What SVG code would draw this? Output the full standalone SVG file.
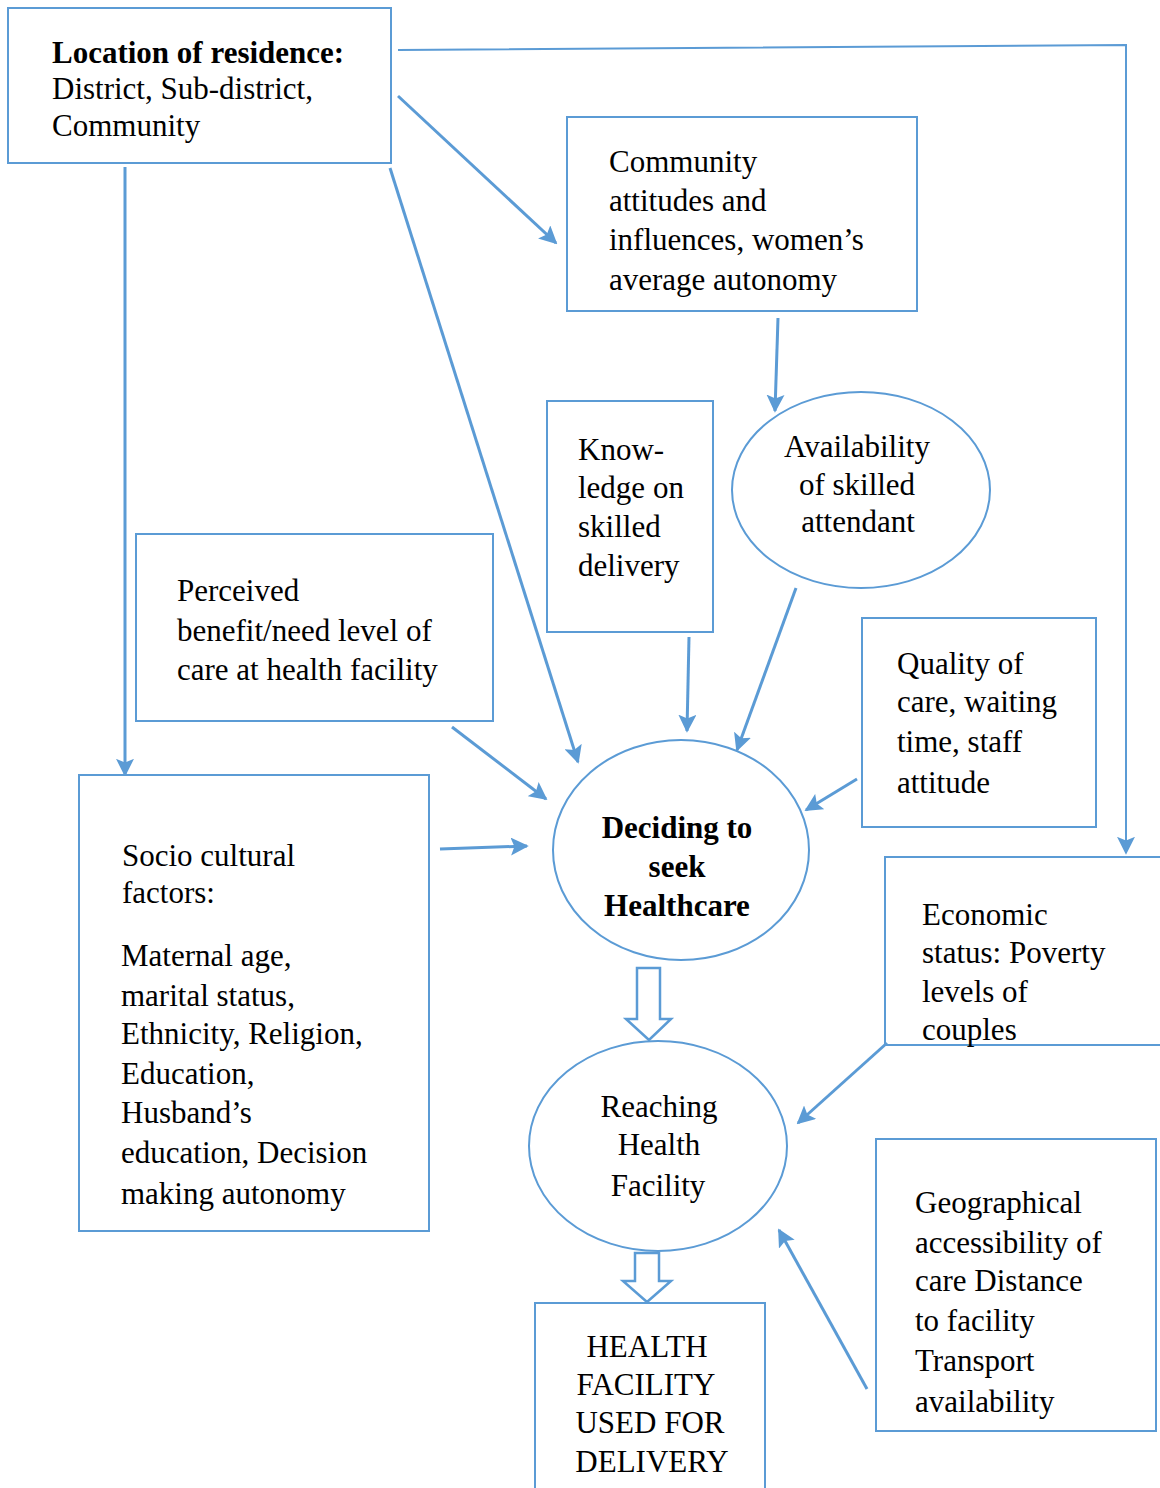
<svg xmlns="http://www.w3.org/2000/svg" width="1160" height="1488" viewBox="0 0 1160 1488">
<style>
.n{fill:#fff;stroke:#5B9BD5;stroke-width:2}
.t{font-family:"Liberation Serif","Times New Roman",serif;font-size:31px;fill:#000}
.b{font-weight:bold}
.c{text-anchor:middle}
.l{fill:none;stroke:#5B9BD5;stroke-width:3}
.thin{fill:none;stroke:#5B9BD5;stroke-width:2}
.blk{fill:#fff;stroke:#5B9BD5;stroke-width:2.5}
</style>
<defs>
<marker id="ah" viewBox="0 0 10 10" refX="9" refY="5" markerWidth="6" markerHeight="6" markerUnits="strokeWidth" orient="auto">
<path d="M0,0 L10,5 L0,10 L2,5 Z" fill="#5B9BD5"/>
</marker>
<marker id="ah2" viewBox="0 0 10 10" refX="9" refY="5" markerWidth="9" markerHeight="9" markerUnits="strokeWidth" orient="auto">
<path d="M0,0 L10,5 L0,10 L2,5 Z" fill="#5B9BD5"/>
</marker>
</defs>
<rect width="1160" height="1488" fill="#fff"/>
<g id="connectors">
<polyline class="thin" points="398,50 1126,45 1126,853" marker-end="url(#ah2)"/>
<line class="l" x1="398" y1="96" x2="556" y2="243" marker-end="url(#ah)"/>
<line class="l" x1="778" y1="318" x2="775" y2="411" marker-end="url(#ah)"/>
<line class="l" x1="390" y1="168" x2="578" y2="762" marker-end="url(#ah)"/>
<line class="l" x1="125" y1="167" x2="125" y2="775" marker-end="url(#ah)"/>
<line class="l" x1="452" y1="727" x2="546" y2="799" marker-end="url(#ah)"/>
<line class="l" x1="689" y1="637" x2="687" y2="731" marker-end="url(#ah)"/>
<line class="l" x1="796" y1="588" x2="737" y2="750" marker-end="url(#ah)"/>
<line class="l" x1="857" y1="779" x2="806" y2="810" marker-end="url(#ah)"/>
<line class="l" x1="440" y1="849" x2="527" y2="846" marker-end="url(#ah)"/>
<line class="l" x1="887" y1="1043" x2="798" y2="1123" marker-end="url(#ah)"/>
<line class="l" x1="867" y1="1389" x2="779" y2="1230" marker-end="url(#ah)"/>
<polygon class="blk" points="637,968 660,968 660,1019 671,1019 649,1040 626,1019 637,1019"/>
<polygon class="blk" points="635,1253 659,1253 659,1281 671,1281 647,1302 623,1281 635,1281"/>
</g>
<g id="location">
<rect class="n" x="8" y="8" width="383" height="155"/>
<text class="t b" x="52" y="63">Location of residence:</text>
<text class="t" x="52" y="99">District, Sub-district,</text>
<text class="t" x="52" y="136">Community</text>
</g>
<g id="community">
<rect class="n" x="567" y="117" width="350" height="194"/>
<text class="t" x="609" y="172">Community</text>
<text class="t" x="609" y="211">attitudes and</text>
<text class="t" x="609" y="250">influences, women’s</text>
<text class="t" x="609" y="290">average autonomy</text>
</g>
<g id="availability">
<ellipse class="n" cx="861" cy="490" rx="129" ry="98"/>
<text class="t c" x="857" y="457">Availability</text>
<text class="t c" x="857" y="495">of skilled</text>
<text class="t c" x="858" y="532">attendant</text>
</g>
<g id="knowledge">
<rect class="n" x="547" y="401" width="166" height="231"/>
<text class="t" x="578" y="460">Know-</text>
<text class="t" x="578" y="498">ledge on</text>
<text class="t" x="578" y="537">skilled</text>
<text class="t" x="578" y="576">delivery</text>
</g>
<g id="perceived">
<rect class="n" x="136" y="534" width="357" height="187"/>
<text class="t" x="177" y="601">Perceived</text>
<text class="t" x="177" y="641">benefit/need level of</text>
<text class="t" x="177" y="680">care at health facility</text>
</g>
<g id="quality">
<rect class="n" x="862" y="618" width="234" height="209"/>
<text class="t" x="897" y="674">Quality of</text>
<text class="t" x="897" y="712">care, waiting</text>
<text class="t" x="897" y="752">time, staff</text>
<text class="t" x="897" y="793">attitude</text>
</g>
<g id="deciding">
<ellipse class="n" cx="681" cy="850" rx="128" ry="110"/>
<text class="t b c" x="677" y="838">Deciding to</text>
<text class="t b c" x="677" y="877">seek</text>
<text class="t b c" x="677" y="916">Healthcare</text>
</g>
<g id="socio">
<rect class="n" x="79" y="775" width="350" height="456"/>
<text class="t" x="122" y="866">Socio cultural</text>
<text class="t" x="122" y="903">factors:</text>
<text class="t" x="121" y="966">Maternal age,</text>
<text class="t" x="121" y="1006">marital status,</text>
<text class="t" x="121" y="1044">Ethnicity, Religion,</text>
<text class="t" x="121" y="1084">Education,</text>
<text class="t" x="121" y="1123">Husband’s</text>
<text class="t" x="121" y="1163">education, Decision</text>
<text class="t" x="121" y="1204">making autonomy</text>
</g>
<g id="economic">
<polyline class="thin" points="1162,857 885,857 885,1045 1162,1045"/>
<text class="t" x="922" y="925">Economic</text>
<text class="t" x="922" y="963">status: Poverty</text>
<text class="t" x="922" y="1002">levels of</text>
<text class="t" x="922" y="1040">couples</text>
</g>
<g id="reaching">
<ellipse class="n" cx="658" cy="1146" rx="129" ry="105"/>
<text class="t c" x="659" y="1117">Reaching</text>
<text class="t c" x="659" y="1155">Health</text>
<text class="t c" x="658" y="1196">Facility</text>
</g>
<g id="healthfacility">
<polyline class="thin" points="535,1490 535,1303 765,1303 765,1490"/>
<text class="t c" x="647" y="1357">HEALTH</text>
<text class="t c" x="646" y="1395">FACILITY</text>
<text class="t c" x="650" y="1433">USED FOR</text>
<text class="t c" x="652" y="1472">DELIVERY</text>
</g>
<g id="geographical">
<rect class="n" x="876" y="1139" width="280" height="292"/>
<text class="t" x="915" y="1213">Geographical</text>
<text class="t" x="915" y="1253">accessibility of</text>
<text class="t" x="915" y="1291">care Distance</text>
<text class="t" x="915" y="1331">to facility</text>
<text class="t" x="915" y="1371">Transport</text>
<text class="t" x="915" y="1412">availability</text>
</g>
</svg>
